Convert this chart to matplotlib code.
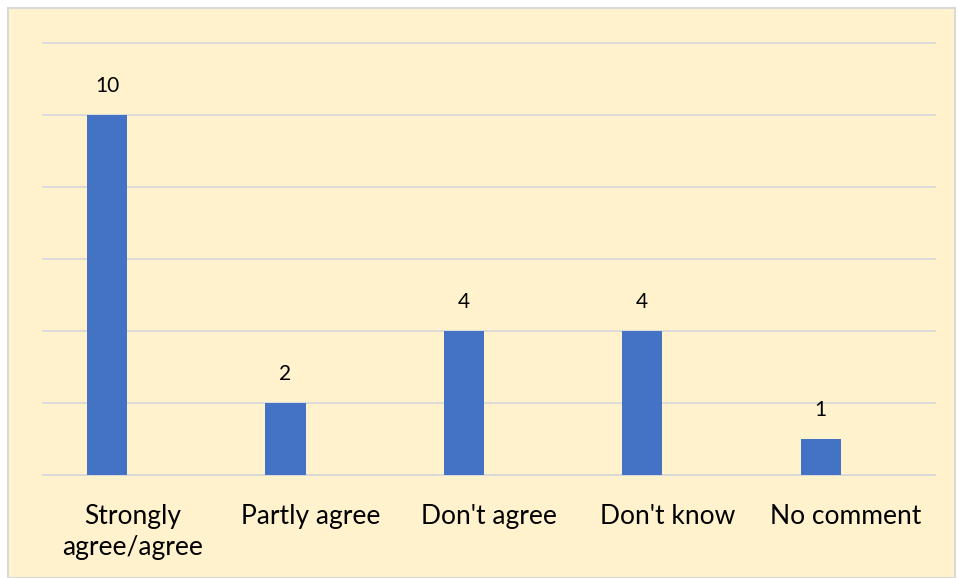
import matplotlib
matplotlib.use("Agg")
from matplotlib import pyplot as plt
from matplotlib.patches import Rectangle

categories = ["Strongly\nagree/agree", "Partly agree", "Don't agree", "Don't know", "No comment"]
values = [10, 2, 4, 4, 1]
yticks = [0, 2, 4, 6, 8, 10, 12]

plt.rcParams['font.family'] = ['Lato', 'DejaVu Sans']

W, H = 958, 578
fig = plt.figure(figsize=(W / 100, H / 100), dpi=100)
fig.patch.set_facecolor("white")

# chart frame (behind the axes)
fig.patches.append(Rectangle((8 / W, 0), (955 - 8) / W, (H - 8) / H, transform=fig.transFigure,
                             facecolor="#FFF2CC", edgecolor="#D9D9D9", linewidth=1.5, zorder=-10))

ax = fig.add_axes([43 / W, (H - 475) / H, (935 - 43) / W, (475 - 43) / H])
ax.set_facecolor("none")
ax.set_zorder(1)

# bars sit left of the category centre, as in an Excel clustered chart
x = list(range(len(categories)))
offset = -0.141
bx = [xi + offset for xi in x]
ax.bar(bx, values, width=0.225, color="#4472C4", zorder=3)
for xi, v in zip(bx, values):
    ax.annotate(str(v), (xi, v), xytext=(0, 21), textcoords="offset points",
                ha="center", va="center", fontsize=15, color="#000000")

ax.set_xlim(-0.5, len(categories) - 0.5)
ax.set_ylim(0, 12)
ax.set_yticks(yticks)
ax.yaxis.grid(True, color="#D9D9D9", linewidth=1.3, zorder=0)
for gl in ax.get_ygridlines():
    gl.set_clip_on(False)
ax.set_axisbelow(True)
ax.tick_params(axis="y", left=False, labelleft=False)
ax.tick_params(axis="x", length=0, pad=21, labelsize=19)
ax.set_xticks(x)
ax.set_xticklabels(categories, linespacing=1.28)
for s in ["top", "right", "left"]:
    ax.spines[s].set_visible(False)
ax.spines["bottom"].set_color("#D9D9D9")
ax.spines["bottom"].set_linewidth(1.3)

fig.savefig("out.png", dpi=100, facecolor=fig.get_facecolor())
